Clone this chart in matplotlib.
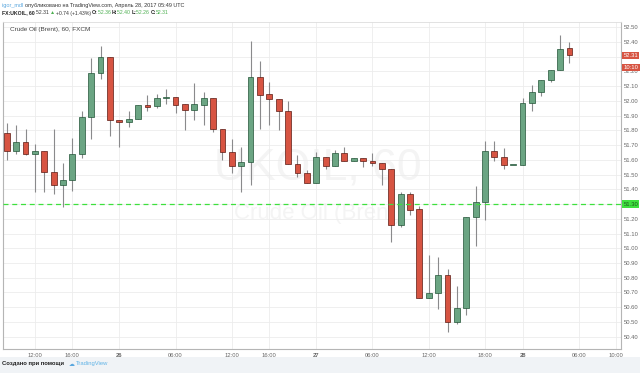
import numpy as np
import matplotlib
matplotlib.use("Agg")
import matplotlib.pyplot as plt
from matplotlib.transforms import blended_transform_factory

plt.rcParams['font.family'] = ['Liberation Sans', 'DejaVu Sans']

# ========================================
# Data (hourly candles, FX:UKOIL 60)
# ========================================

opens = [51.78, 51.66, 51.72, 51.64, 51.66, 51.515, 51.43, 51.46, 51.64, 51.89,
         52.19, 52.30, 51.87, 51.86, 51.88, 51.97, 51.965, 52.02, 52.03, 51.98,
         51.94, 51.975, 52.02, 51.81, 51.655, 51.56, 51.585, 52.16, 52.045, 52.01,
         51.935, 51.575, 51.51, 51.445, 51.62, 51.56, 51.645, 51.59, 51.61, 51.59,
         51.58, 51.54, 51.16, 51.365, 51.265, 50.66, 50.695, 50.815, 50.50, 50.595,
         51.21, 51.315, 51.66, 51.617, 51.565, 51.565, 51.985, 52.06, 52.14, 52.21,
         52.36]
highs = [51.85, 51.84, 51.81, 51.71, 51.66, 51.81, 51.58, 51.75, 51.93, 52.29,
         52.37, 52.30, 51.87, 51.93, 51.97, 52.04, 52.05, 52.08, 52.03, 51.98,
         52.12, 52.06, 52.02, 51.81, 51.74, 51.685, 52.41, 52.27, 52.13, 52.01,
         52.00, 51.63, 51.53, 51.655, 51.62, 51.67, 51.685, 51.61, 51.61, 51.65,
         51.58, 51.54, 51.38, 51.38, 51.285, 50.955, 50.94, 50.86, 50.745, 51.21,
         51.425, 51.73, 51.73, 51.68, 51.565, 52.02, 52.11, 52.14, 52.21, 52.445,
         52.40]
lows = [51.60, 51.64, 51.63, 51.38, 51.38, 51.37, 51.28, 51.39, 51.61, 51.74,
        52.15, 51.76, 51.69, 51.82, 51.88, 51.93, 51.95, 51.98, 51.92, 51.80,
        51.87, 51.84, 51.79, 51.60, 51.51, 51.38, 51.43, 51.81, 51.84, 51.80,
        51.575, 51.485, 51.44, 51.445, 51.54, 51.56, 51.59, 51.59, 51.55, 51.56,
        51.43, 51.04, 51.145, 51.225, 50.66, 50.66, 50.585, 50.43, 50.485, 50.545,
        51.015, 51.19, 51.595, 51.54, 51.565, 51.565, 51.935, 52.035, 52.13, 52.21,
        52.26]
closes = [51.66, 51.72, 51.64, 51.66, 51.515, 51.43, 51.46, 51.64, 51.89, 52.19,
          52.30, 51.87, 51.86, 51.88, 51.97, 51.96, 52.02, 52.03, 51.97, 51.94,
          51.98, 52.02, 51.81, 51.655, 51.56, 51.585, 52.16, 52.04, 52.01, 51.935,
          51.575, 51.51, 51.445, 51.62, 51.56, 51.645, 51.59, 51.61, 51.59, 51.58,
          51.54, 51.16, 51.365, 51.26, 50.66, 50.695, 50.815, 50.50, 50.595, 51.21,
          51.315, 51.66, 51.617, 51.565, 51.565, 51.985, 52.06, 52.14, 52.21, 52.35,
          52.31]

time_tick_pos = [3, 7, 12, 18, 24, 28, 33, 39, 45, 51, 55, 61, 65]
time_tick_labels = ["12:00", "16:00", "26", "06:00", "12:00", "16:00", "27",
                    "06:00", "12:00", "18:00", "28", "06:00", "10:00"]
price_ticks = [round(50.4 + 0.1 * i, 2) for i in range(22)]

LAST_PRICE = 52.31
LEVEL_PRICE = 51.30

UP = "#6ba583"
UP_EDGE = "#225437"
DOWN = "#d75442"
DOWN_EDGE = "#5b1a13"
TV_GREEN = "#4caf50"
TV_BLUE = "#5aa7de"

# ========================================
# Figure
# ========================================

W, H = 640, 373
fig = plt.figure(figsize=(W / 100, H / 100), dpi=100)
fig.patch.set_facecolor("white")
renderer = fig.canvas.get_renderer()

def px(x, y):
    return x / W, 1 - y / H

# bottom strip
fig.patches.append(plt.Rectangle(px(0, H), 1, 16 / H, transform=fig.transFigure,
                                 facecolor="#f0f3f6", edgecolor="none", zorder=0))

ax = fig.add_axes([3 / W, (H - 349) / H, (621 - 3) / W, (349 - 22) / H])
ax.set_facecolor("white")

x = np.arange(len(opens))
o = np.array(opens); c = np.array(closes)
hi = np.array(highs); lo = np.array(lows)
up = c >= o

# watermark
ax.text(0.51, 0.555, "UKOIL, 60", transform=ax.transAxes, ha="center", va="center",
        fontsize=32, color="#f4f4f4", zorder=0)
ax.text(0.51, 0.415, "Crude Oil (Brent)", transform=ax.transAxes, ha="center", va="center",
        fontsize=16, color="#f4f4f4", zorder=0)

# wicks
ax.vlines(x, lo, hi, color="#8a8a8c", linewidth=0.8, zorder=2)

# bodies
body_h = np.maximum(np.abs(c - o), 0.004)
ax.bar(x[up], body_h[up], bottom=np.minimum(o, c)[up], width=0.62,
       color=UP, edgecolor=UP_EDGE, linewidth=0.5, zorder=3)
ax.bar(x[~up], body_h[~up], bottom=np.minimum(o, c)[~up], width=0.62,
       color=DOWN, edgecolor=DOWN_EDGE, linewidth=0.5, zorder=3)

# horizontal level
ax.axhline(LEVEL_PRICE, color="#3ee03e", linewidth=0.9, dashes=(4, 3), zorder=4)

ax.set_xlim(-0.4, 65.5)
ax.set_ylim(50.316, 52.536)

ax.set_xticks(time_tick_pos)
ax.set_xticklabels(time_tick_labels)
for lbl in ax.get_xticklabels():
    if len(lbl.get_text()) == 2:
        lbl.set_fontweight("bold")
ax.set_yticks(price_ticks)
ax.set_yticklabels([f"{p:.2f}" for p in price_ticks])
ax.yaxis.tick_right()
ax.tick_params(axis="both", labelsize=4.2, colors="#666666", length=0)
ax.tick_params(axis="y", pad=2)
ax.tick_params(axis="x", pad=3)
ax.grid(True, color="#ececec", linewidth=0.6, zorder=0)
ax.set_axisbelow(True)
for side in ["left", "right", "bottom"]:
    ax.spines[side].set_color("#b5b5b5")
    ax.spines[side].set_linewidth(0.8)
ax.spines["top"].set_color("#dddddd")
ax.spines["top"].set_linewidth(0.6)

# price badges on the right axis
tr = blended_transform_factory(ax.transAxes, ax.transData)
badge = dict(boxstyle="square,pad=0.2", linewidth=0)
ax.text(1.004, LAST_PRICE, f"{LAST_PRICE:.2f}", transform=tr, fontsize=4.2, color="white",
        va="center", ha="left", bbox=dict(badge, facecolor=DOWN), clip_on=False, zorder=6)
ax.text(1.004, 52.225, "10:10", transform=tr, fontsize=4.2, color="white",
        va="center", ha="left", bbox=dict(badge, facecolor=DOWN), clip_on=False, zorder=6)
ax.text(1.004, LEVEL_PRICE, f"{LEVEL_PRICE:.2f}", transform=tr, fontsize=4.2, color="#1a5a1a",
        va="center", ha="left", bbox=dict(badge, facecolor="#3ee03e"), clip_on=False, zorder=6)

# chart caption
ax.text(7 / 618, 0.985, "Crude Oil (Brent), 60, FXCM", transform=ax.transAxes,
        fontsize=4.6, color="#444444", va="top", ha="left")

# ========================================
# Header / footer: text pieces placed one after another
# ========================================

def write_line(x0, y, pieces, size):
    xp = x0
    for s, color, weight in pieces:
        t = fig.text(*px(xp, y), s, color=color, fontweight=weight, fontsize=size,
                     va="center", ha="left")
        xp += t.get_window_extent(renderer).width

write_line(2, 5, [("igor_mdl ", TV_BLUE, "normal"),
                  ("опубликовано на TradingView.com, Апрель 28, 2017 05:49 UTC", "#333333", "normal")],
           size=4.0)
write_line(2, 13, [("FX:UKOIL, 60 ", "#222222", "bold"),
                   ("52.31 ", "#333333", "normal"),
                   ("▲", TV_GREEN, "normal"),
                   ("+0.74 (+1.43%) ", "#333333", "normal"),
                   ("O:", "#222222", "bold"), ("52.36 ", TV_GREEN, "normal"),
                   ("H:", "#222222", "bold"), ("52.40 ", TV_GREEN, "normal"),
                   ("L:", "#222222", "bold"), ("52.26 ", TV_GREEN, "normal"),
                   ("C:", "#222222", "bold"), ("52.31", TV_GREEN, "normal")],
           size=3.7)
write_line(2, 364, [("Создано при помощи   ", "#222222", "bold"),
                    ("☁ ", TV_BLUE, "normal"),
                    ("TradingView", "#5fb3e6", "normal")],
           size=4.2)

fig.savefig("out.png", dpi=100)
